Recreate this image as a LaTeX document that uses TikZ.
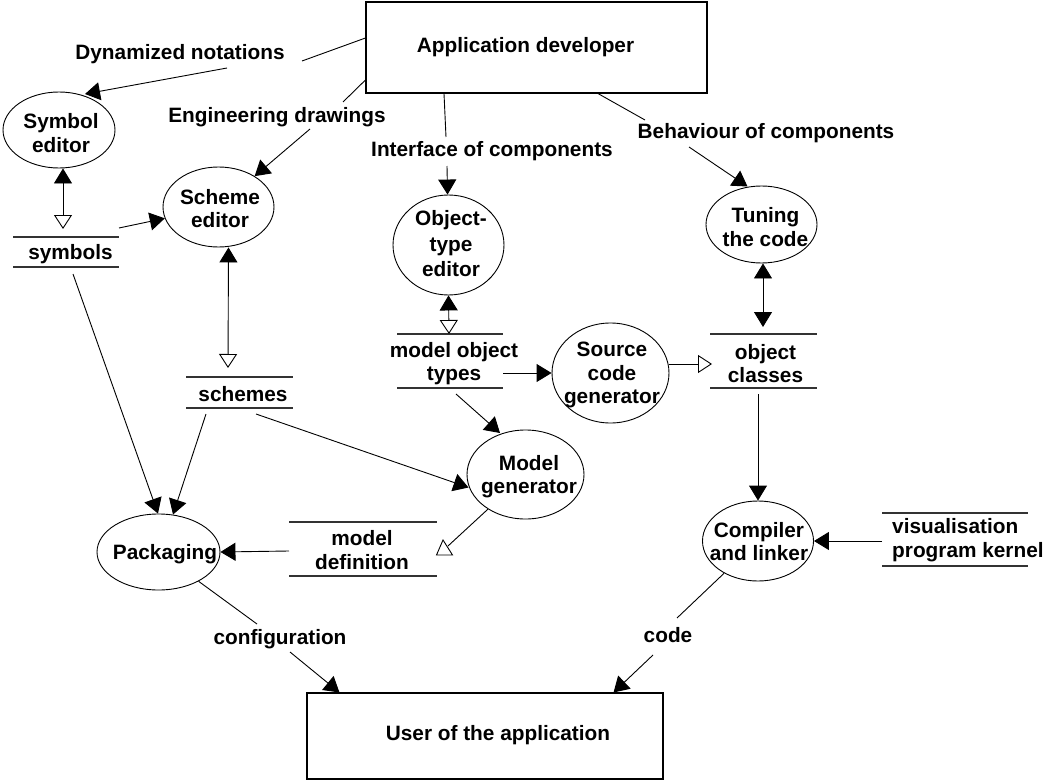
\documentclass[tikz,border=0pt]{standalone}
\usepackage{fontspec}
\setmainfont{Liberation Sans}
\usetikzlibrary{arrows.meta,shapes.geometric}

% two rules bounding a data store: #1 centre, #2 half width, #3 half height
\newcommand\storelines[3]{%
  \draw[storeline] ([shift={(-#2,-#3)}]#1) -- ([shift={(#2,-#3)}]#1)
                   ([shift={(-#2,#3)}]#1) -- ([shift={(#2,#3)}]#1);}

\tikzset{
  Fil/.tip={Triangle[length=15pt,width=18pt]},
  Hol/.tip={Triangle[open,length=14pt,width=18pt]},
}

\begin{document}
\begin{tikzpicture}[x=1pt,y=-1pt,
  font=\fontsize{20.8}{23.5}\selectfont\bfseries,
  proc/.style={draw, ellipse, line width=0.9pt, inner sep=0pt},
  agent/.style={draw, rectangle, line width=1.1pt, inner sep=0pt},
  txt/.style={align=center, inner sep=0pt},
  flow/.style={line width=0.9pt},
  arr/.style={flow, -Fil},
  storeline/.style={line width=1.3pt, black!80},
]
\fill[white] (0,0) rectangle (1044,781);
\useasboundingbox (0,0) rectangle (1044,781);

% external agents
\node[agent, minimum width=341pt, minimum height=91pt] (dev) at (536.5,47.5) {};
\node[txt] (dev-t) at (525.5,47) {Application developer};
\node[agent, minimum width=356pt, minimum height=86pt] (user) at (485,736) {};
\node[txt] (user-t) at (498,735) {User of the application};

% processes
\node[proc, minimum width=112pt, minimum height=76pt] (symed) at (59,130) {};
\node[txt] (symed-t) at (61,133) {Symbol\\editor};
\node[proc, minimum width=111pt, minimum height=80pt] (schemed) at (218.5,207) {};
\node[txt] (schemed-t) at (220,208.5) {Scheme\\editor};
\node[proc, minimum width=111pt, minimum height=100pt] (objed) at (448.5,245) {};
\node[txt] (objed-t) at (451,244) {Object-\\[2pt]type\\[2pt]editor};
\node[proc, minimum width=111pt, minimum height=77pt] (tune) at (761.5,224.5) {};
\node[txt] (tune-t) at (765.5,227) {Tuning\\the code};
\node[proc, minimum width=117pt, minimum height=100pt] (srcgen) at (610.5,373) {};
\node[txt] (srcgen-t) at (612,375) {Source\\code\\generator};
\node[proc, minimum width=117pt, minimum height=89pt] (modgen) at (525.5,474.5) {};
\node[txt] (modgen-t) at (529,476.5) {Model\\generator};
\node[proc, minimum width=123pt, minimum height=76pt] (pack) at (158.5,552) {};
\node[txt] (pack-t) at (165,554) {Packaging};
\node[proc, minimum width=111pt, minimum height=80pt] (comp) at (758,541) {};
\node[txt] (comp-t) at (759,541.5) {Compiler\\and linker};

% data stores
\coordinate (sym) at (66,252);
\storelines{sym}{53}{15}
\node[txt] (sym-t) at (70.5,254) {symbols};
\coordinate (schemes) at (239.5,392.5);
\storelines{schemes}{53.5}{15.5}
\node[txt] (schemes-t) at (243,394) {schemes};
\coordinate (mot) at (450,361);
\storelines{mot}{53}{27}
\node[txt] (mot-t) at (454,363.5) {model object\\types};
\coordinate (objcls) at (763.5,361);
\storelines{objcls}{53.5}{27}
\node[txt] (objcls-t) at (765.5,363.5) {object\\classes};
\coordinate (moddef) at (363,549);
\storelines{moddef}{74}{27}
\node[txt] (moddef-t) at (362,550) {model\\definition};
\coordinate (vis) at (955,539.5);
\storelines{vis}{73}{26.5}
\node[txt, align=left, anchor=west] (vis-t) at (892,540) {visualisation\\program kernel};

% flow labels
\node[txt] (dn) at (180,54) {Dynamized notations};
\node[txt] (ed) at (277,117) {Engineering drawings};
\node[txt] (ic) at (492,151) {Interface of components};
\node[txt] (bc) at (766,133) {Behaviour of components};
\node[txt] (cf) at (280,639) {configuration};
\node[txt] (cd) at (668,635) {code};

% break points of labelled flows
\coordinate (dn-a) at (302,61);  \coordinate (dn-b) at (227,68);
\coordinate (ed-a) at (343,102); \coordinate (ed-b) at (310,129);
\coordinate (ic-a) at (446,137); \coordinate (ic-b) at (447,166);
\coordinate (bc-a) at (645,120); \coordinate (bc-b) at (689,147);
\coordinate (cf-a) at (257,624); \coordinate (cf-b) at (290,652);
\coordinate (cd-a) at (677,618); \coordinate (cd-b) at (653,655);
\coordinate (md-in) at (448,546);

% flows from the developer
\draw[flow] ([shift={(0,-9.5)}]dev.west) -- (dn-a);
\draw[arr] (dn-b) -- ([shift={(26,-36)}]symed.center);
\draw[flow] ([shift={(0,32.5)}]dev.west) -- (ed-a);
\draw[arr] (ed-b) -- (schemed);
\draw[flow] ([shift={(-92.5,0)}]dev.south) -- (ic-a);
\draw[arr] (ic-b) -- (objed);
\draw[flow] ([shift={(61.5,0)}]dev.south) -- (bc-a);
\draw[arr] (bc-b) -- ([shift={(-14,-38)}]tune.center);

% editors and their stores
\draw[flow, Fil-Hol] ([shift={(4,0)}]symed.south) -- ([shift={(-3,-23)}]sym);
\draw[arr] ([shift={(53,-24)}]sym) -- (schemed);
\draw[flow, Fil-Hol] ([shift={(10,0)}]schemed.south) -- ([shift={(-11.5,-24.5)}]schemes);
\draw[flow, Fil-Hol] (objed.south) -- ([shift={(-1,-27)}]mot);
\draw[flow, Fil-Fil] ([shift={(1.5,0)}]tune.south) -- ([shift={(-0.5,-34)}]objcls);

% generation
\draw[arr] ([shift={(53,12)}]mot) -- (srcgen.west);
\draw[arr] ([shift={(6,33)}]mot) -- ([shift={(-25.5,-41.5)}]modgen.center);
\draw[flow, -Hol] ([shift={(0,-9)}]srcgen.east) -- ([shift={(-51.5,3)}]objcls);
\draw[arr] ([shift={(16.5,21.5)}]schemes) -- ([shift={(-57,13)}]modgen.center);
\draw[flow] (modgen) -- (md-in);
\draw[flow, fill=white] (443,540) -- (452.5,555) -- (436.5,555) -- cycle;

% packaging and compiling
\draw[arr] ([shift={(7,22)}]sym) -- ([shift={(-0.5,0)}]pack.north);
\draw[arr] ([shift={(-33.5,21.5)}]schemes) -- ([shift={(14.5,1)}]pack.north);
\draw[arr] ([shift={(-74,2)}]moddef) -- (pack.east);
\draw[arr] ([shift={(-5.5,33)}]objcls) -- (comp.north);
\draw[arr] ([shift={(-73,1.5)}]vis) -- (comp.east);

% deliveries to the user
\draw[flow] (pack) -- (cf-a);
\draw[arr] (cf-b) -- ([shift={(33,0)}]user.north west);
\draw[flow] (comp) -- (cd-a);
\draw[arr] (cd-b) -- ([shift={(-50,0)}]user.north east);
\end{tikzpicture}
\end{document}
